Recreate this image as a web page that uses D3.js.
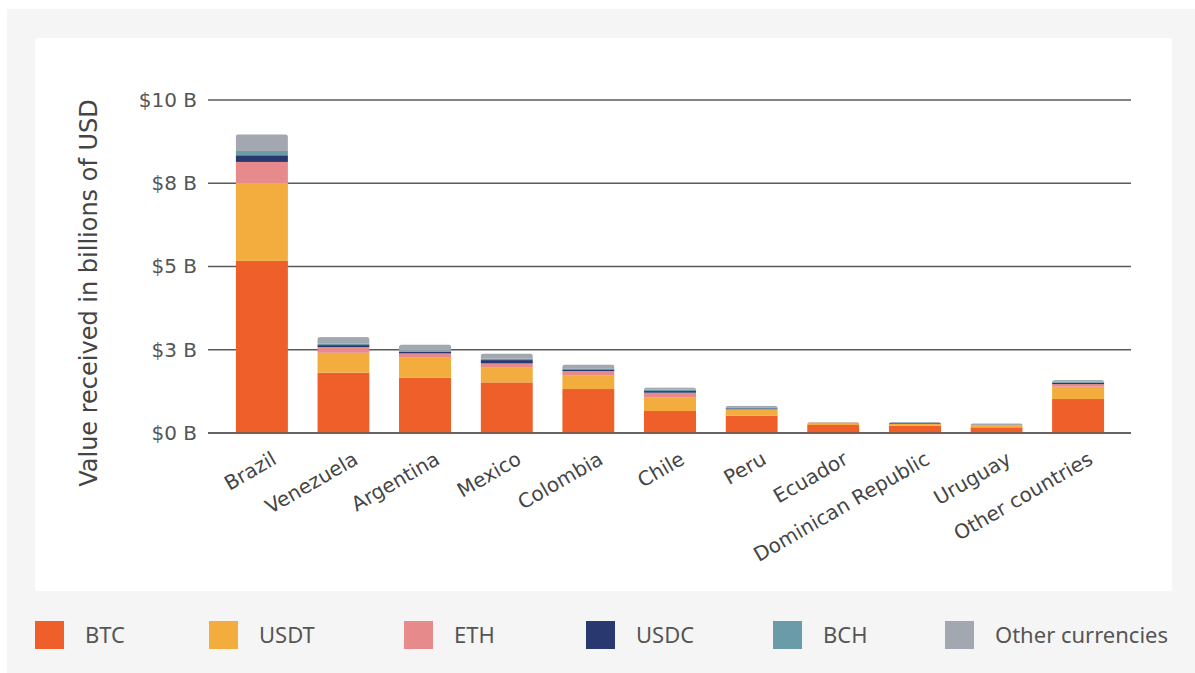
<!DOCTYPE html>
<html>
<head>
<meta charset="utf-8">
<script src="https://cdn.jsdelivr.net/npm/d3@7"></script>
<style>
  html, body { margin: 0; padding: 0; background: #ffffff; }
  svg { display: block; }
</style>
</head>
<body>
<svg id="chart" width="1195" height="673"></svg>
<script>
const countries = ["Brazil", "Venezuela", "Argentina", "Mexico", "Colombia", "Chile", "Peru", "Ecuador", "Dominican Republic", "Uruguay", "Other countries"];
const currencies = ["BTC", "USDT", "ETH", "USDC", "BCH", "Other currencies"];
const colors = ["#EE5F2A", "#F2AD3E", "#E68A8C", "#2A3870", "#6A9BA8", "#A3A8B0"];

const btc   = [5.17, 1.81, 1.66, 1.52, 1.32, 0.66, 0.52, 0.24, 0.22, 0.17, 1.02];
const usdt  = [2.34, 0.60, 0.60, 0.44, 0.40, 0.40, 0.17, 0.07, 0.05, 0.05, 0.37];
const eth   = [0.63, 0.17, 0.13, 0.13, 0.14, 0.15, 0.03, 0.01, 0.01, 0.01, 0.08];
const usdc  = [0.20, 0.06, 0.05, 0.10, 0.05, 0.05, 0.02, 0.00, 0.02, 0.00, 0.04];
const bch   = [0.13, 0.04, 0.04, 0.04, 0.03, 0.04, 0.03, 0.00, 0.02, 0.01, 0.03];
const other = [0.50, 0.20, 0.18, 0.16, 0.12, 0.07, 0.05, 0.01, 0.01, 0.05, 0.05];

const tickValues = [0, 2.5, 5, 7.5, 10];
const tickLabels = ["$0 B", "$3 B", "$5 B", "$8 B", "$10 B"];
const yTitle = "Value received in billions of USD";

const seriesArrays = [btc, usdt, eth, usdc, bch, other];
const table = countries.map((c, i) => {
  const row = { country: c };
  currencies.forEach((k, j) => row[k] = seriesArrays[j][i]);
  return row;
});

const svg = d3.select("#chart");
// backgrounds
svg.append("rect").attr("x", 7).attr("y", 9).attr("width", 1188).attr("height", 664).attr("fill", "#f5f5f5");
svg.append("rect").attr("x", 35).attr("y", 38).attr("width", 1137).attr("height", 553).attr("fill", "#ffffff").attr("rx", 2);

const x = d3.scaleBand().domain(countries).range([221, 1119]).paddingInner(0.36).paddingOuter(0.18);
const y = d3.scaleLinear().domain([0, 10]).range([433, 100]);

const fontAxis = "'DejaVu Sans', Roboto, sans-serif";

// grid / y axis
const yAxis = d3.axisLeft(y).tickValues(tickValues).tickFormat((d, i) => tickLabels[i]).tickSize(0).tickPadding(11);
const gy = svg.append("g").attr("transform", "translate(208,0)").call(yAxis);
gy.select(".domain").remove();
gy.selectAll("text").attr("fill", "#555").style("font-family", fontAxis).style("font-size", "20px");
svg.append("g").selectAll("line").data(tickValues).join("line")
  .attr("x1", 208).attr("x2", 1131)
  .attr("y1", d => y(d)).attr("y2", d => y(d))
  .attr("stroke", "#5a5a5a").attr("stroke-width", 1.6);

// stacked bars
const stack = d3.stack().keys(currencies)(table);
const color = d3.scaleOrdinal().domain(currencies).range(colors);
const defs = svg.append("defs");
countries.forEach((c, i) => {
  const total = seriesArrays.reduce((s, a) => s + a[i], 0);
  defs.append("clipPath").attr("id", "clip" + i)
    .append("rect")
    .attr("x", x(c)).attr("width", x.bandwidth())
    .attr("y", y(total)).attr("height", y(0) - y(total) + 10).attr("rx", 3);
});
const barsG = svg.append("g");
stack.forEach(layer => {
  barsG.append("g").attr("fill", color(layer.key))
    .selectAll("rect").data(layer).join("rect")
    .attr("clip-path", (d, i) => `url(#clip${i})`)
    .attr("x", d => x(d.data.country))
    .attr("width", x.bandwidth())
    .attr("y", d => y(d[1]))
    .attr("height", d => Math.max(0, y(d[0]) - y(d[1])));
});
// baseline over bars
svg.append("line").attr("x1", 208).attr("x2", 1131).attr("y1", y(0)).attr("y2", y(0))
  .attr("stroke", "#5a5a5a").attr("stroke-width", 1.6);

// x axis labels
const xAxis = d3.axisBottom(x).tickSize(0).tickPadding(0);
const gx = svg.append("g").attr("transform", `translate(0,${y(0)})`).call(xAxis);
gx.select(".domain").remove();
gx.selectAll("text")
  .attr("text-anchor", "end")
  .attr("dy", null)
  .attr("y", 0)
  .attr("transform", "translate(16,30) rotate(-30)")
  .attr("fill", "#444")
  .style("font-family", fontAxis)
  .style("font-size", "20px");

// y title
svg.append("text")
  .attr("transform", "translate(97,293) rotate(-90)")
  .attr("text-anchor", "middle")
  .attr("fill", "#444")
  .style("font-family", fontAxis)
  .style("font-size", "24px")
  .text(yTitle);

// legend
const legendX = [35, 209, 404, 586, 773, 945];
const lg = svg.append("g");
currencies.forEach((k, i) => {
  const g = lg.append("g").attr("transform", `translate(${legendX[i]},621)`);
  g.append("rect").attr("width", 29).attr("height", 28).attr("fill", colors[i]);
  g.append("text").attr("x", 50).attr("y", 14).attr("dy", "0.36em")
    .attr("fill", "#555")
    .style("font-family", "'Noto Sans', 'Open Sans', sans-serif")
    .style("font-size", "22px")
    .text(k);
});
</script>
</body>
</html>
